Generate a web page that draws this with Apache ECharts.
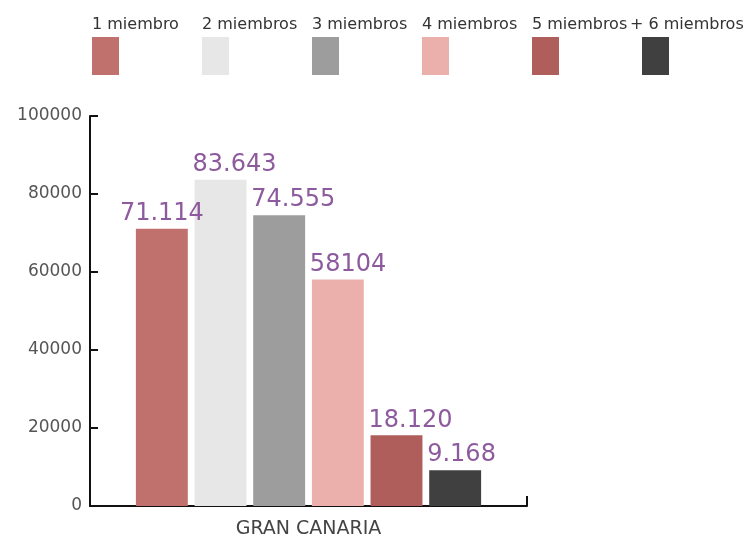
<!DOCTYPE html>
<html>
<head>
<meta charset="utf-8">
<script src="https://cdn.jsdelivr.net/npm/echarts@6/dist/echarts.min.js"></script>
<style>
  html, body { margin: 0; padding: 0; background: #fff; }
  #chart { width: 754px; height: 546px; }
</style>
</head>
<body>
<div id="chart"></div>
<script>
var categories = ['GRAN CANARIA'];
var seriesNames = ['1 miembro', '2 miembros', '3 miembros', '4 miembros', '5 miembros', '+ 6 miembros'];
var values = [71114, 83643, 74555, 58104, 18120, 9168];
var valueLabels = ['71.114', '83.643', '74.555', '58104', '18.120', '9.168'];
var colors = ['#c1716d', '#e7e7e7', '#9d9d9d', '#ebb0ac', '#b05e5c', '#404040'];

var chart = echarts.init(document.getElementById('chart'));

var series = seriesNames.map(function (name, i) {
    return {
        name: name,
        type: 'bar',
        barGap: '13%',
        barCategoryGap: '21%',
        itemStyle: { color: colors[i] },
        label: {
            show: true,
            position: [0, 0],
            align: 'left',
            verticalAlign: 'bottom',
            offset: [i === 0 ? -16 : -2, -3],
            fontFamily: 'DejaVu Sans',
            fontSize: 24,
            color: '#8e5a9e',
            formatter: valueLabels[i]
        },
        data: [values[i]]
    };
});

// names above the swatches: one small legend per name
var legends = seriesNames.map(function (name, i) {
    return {
        left: 82 + 110 * i - (i === 5 ? 12 : 0),
        top: 12,
        icon: 'rect',
        itemWidth: 0,
        itemHeight: 0,
        itemTextGap: 0,
        selectedMode: false,
        textStyle: { fontSize: 16, color: '#333' },
        data: [name]
    };
});
legends.push({
    left: 87,
    top: 32,
    icon: 'rect',
    itemWidth: 27,
    itemHeight: 38,
    itemTextGap: 0,
    itemGap: 83,
    selectedMode: false,
    formatter: function () { return ''; },
    data: seriesNames
});

var option = {
    animation: false,
    backgroundColor: '#fff',
    textStyle: { fontFamily: 'DejaVu Sans' },
    legend: legends,
    grid: { left: 90, right: 227, top: 116, bottom: 40 },
    xAxis: {
        type: 'category',
        data: categories,
        axisLine: { lineStyle: { color: '#111', width: 2 } },
        axisTick: { show: true, inside: true, length: 10, lineStyle: { color: '#111', width: 2 } },
        axisLabel: { fontSize: 19, color: '#444', margin: 14 }
    },
    yAxis: {
        type: 'value',
        min: 0,
        max: 100000,
        interval: 20000,
        axisLine: { show: true, lineStyle: { color: '#111', width: 2 } },
        axisTick: { show: true, inside: true, length: 8, lineStyle: { color: '#111', width: 2 } },
        axisLabel: {
            fontSize: 17,
            color: '#555',
            margin: 8,
            formatter: function (v) { return String(v); }
        },
        splitLine: { show: false }
    },
    series: series
};

chart.setOption(option);
window.addEventListener('resize', chart.resize);
</script>
</body>
</html>
